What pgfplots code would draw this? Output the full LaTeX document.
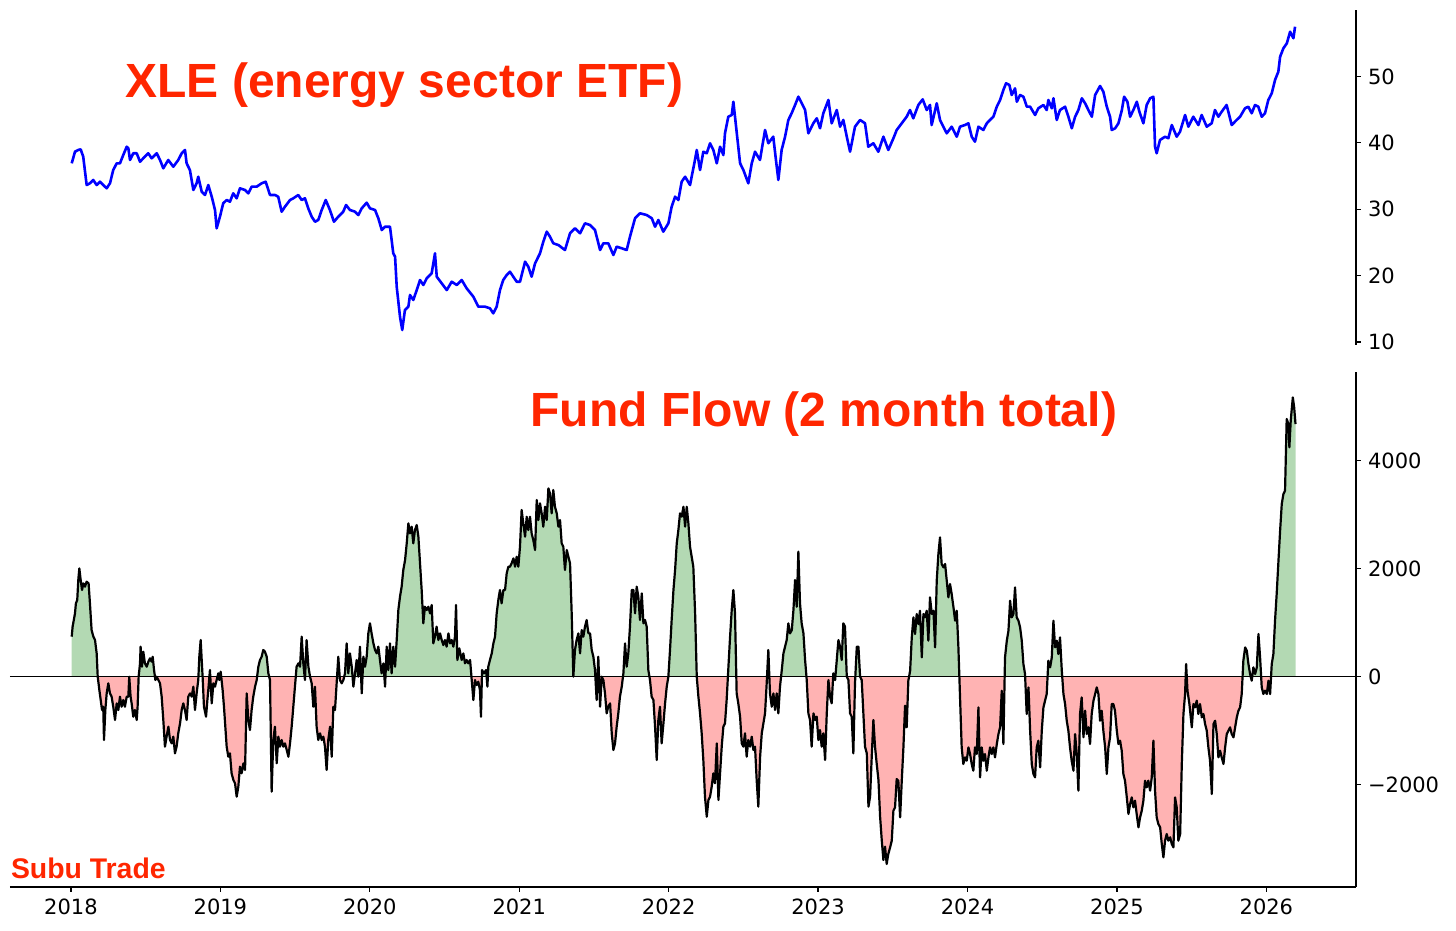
\documentclass[border=0pt]{standalone}
\usepackage{pgfplots}
\pgfplotsset{compat=1.18}
\usepackage{pgfplotstable}
\usepackage{fontspec}
\setmainfont{DejaVu Sans}
\newfontfamily\tickfont{DejaVu Sans}
\newfontfamily\titlefont{Liberation Sans}
\definecolor{tred}{RGB}{255,38,0}
\definecolor{posg}{RGB}{179,217,179}
\definecolor{negr}{RGB}{255,179,179}

\pgfplotstableread[row sep=\\]{
t v\\
2018.005 36.92\\ 2018.027 38.67\\ 2018.049 38.93\\ 2018.065 39.03\\ 2018.082 37.92\\ 2018.105 33.65\\ 2018.127 33.91\\ 2018.149 34.41\\
2018.172 33.65\\ 2018.194 34.15\\ 2018.216 33.65\\ 2018.239 33.16\\ 2018.261 33.91\\ 2018.283 35.91\\ 2018.306 36.92\\ 2018.328 36.92\\
2018.350 38.17\\ 2018.373 39.42\\ 2018.384 39.18\\ 2018.395 37.42\\ 2018.417 38.43\\ 2018.440 38.43\\ 2018.462 37.16\\ 2018.484 37.68\\
2018.517 38.43\\ 2018.540 37.68\\ 2018.574 38.43\\ 2018.596 37.42\\ 2018.618 36.17\\ 2018.651 37.42\\ 2018.685 36.41\\ 2018.718 37.42\\
2018.741 38.43\\ 2018.763 38.93\\ 2018.774 36.92\\ 2018.796 35.91\\ 2018.819 32.90\\ 2018.841 33.91\\ 2018.852 34.90\\ 2018.875 32.64\\
2018.897 32.15\\ 2018.919 33.65\\ 2018.942 31.89\\ 2018.964 29.89\\ 2018.975 27.13\\ 2018.997 28.88\\ 2019.019 30.90\\ 2019.042 31.39\\
2019.064 31.14\\ 2019.086 32.40\\ 2019.109 31.65\\ 2019.131 33.16\\ 2019.165 32.90\\ 2019.187 32.40\\ 2019.209 33.40\\ 2019.243 33.40\\
2019.276 33.91\\ 2019.303 34.15\\ 2019.332 32.15\\ 2019.365 32.15\\ 2019.387 31.89\\ 2019.410 29.63\\ 2019.432 30.38\\ 2019.466 31.39\\
2019.488 31.65\\ 2019.521 32.15\\ 2019.544 31.39\\ 2019.566 31.65\\ 2019.588 30.14\\ 2019.611 28.88\\ 2019.633 28.12\\ 2019.655 28.38\\
2019.678 29.89\\ 2019.705 31.39\\ 2019.733 29.89\\ 2019.760 28.12\\ 2019.789 28.88\\ 2019.822 29.63\\ 2019.841 30.64\\ 2019.867 29.89\\
2019.901 29.63\\ 2019.923 29.13\\ 2019.946 30.14\\ 2019.979 30.99\\ 2020.001 30.14\\ 2020.035 29.89\\ 2020.057 28.64\\ 2020.080 26.87\\
2020.102 27.37\\ 2020.135 27.37\\ 2020.157 23.36\\ 2020.169 22.85\\ 2020.180 18.33\\ 2020.202 13.81\\ 2020.217 11.81\\ 2020.235 14.82\\
2020.258 15.32\\ 2020.269 17.08\\ 2020.291 16.33\\ 2020.314 17.83\\ 2020.336 19.34\\ 2020.358 18.59\\ 2020.381 19.60\\ 2020.414 20.35\\
2020.436 23.36\\ 2020.448 19.84\\ 2020.481 18.84\\ 2020.515 17.83\\ 2020.548 19.08\\ 2020.582 18.59\\ 2020.615 19.34\\ 2020.648 18.09\\
2020.693 16.82\\ 2020.726 15.32\\ 2020.771 15.32\\ 2020.804 15.08\\ 2020.826 14.32\\ 2020.849 15.32\\ 2020.871 17.83\\ 2020.893 19.34\\
2020.916 20.09\\ 2020.938 20.59\\ 2020.960 19.84\\ 2020.983 19.08\\ 2021.005 19.08\\ 2021.039 22.10\\ 2021.061 21.34\\ 2021.083 19.84\\
2021.106 21.86\\ 2021.139 23.36\\ 2021.161 25.11\\ 2021.184 26.62\\ 2021.206 25.86\\ 2021.228 24.87\\ 2021.262 24.61\\ 2021.306 23.86\\
2021.340 26.38\\ 2021.373 27.13\\ 2021.407 26.38\\ 2021.440 27.88\\ 2021.474 27.63\\ 2021.507 26.87\\ 2021.541 23.86\\ 2021.563 24.87\\
2021.596 24.87\\ 2021.630 23.11\\ 2021.652 24.36\\ 2021.686 24.12\\ 2021.719 23.86\\ 2021.741 25.86\\ 2021.775 28.64\\ 2021.808 29.39\\
2021.853 29.13\\ 2021.887 28.64\\ 2021.909 27.37\\ 2021.931 28.38\\ 2021.964 26.62\\ 2021.998 27.88\\ 2022.020 30.38\\ 2022.043 31.89\\
2022.065 31.39\\ 2022.087 34.15\\ 2022.110 34.90\\ 2022.143 33.65\\ 2022.176 37.42\\ 2022.188 38.93\\ 2022.210 35.91\\ 2022.232 38.67\\
2022.255 38.43\\ 2022.277 39.94\\ 2022.299 38.93\\ 2022.322 36.92\\ 2022.344 39.42\\ 2022.366 38.17\\ 2022.377 41.44\\ 2022.399 43.94\\
2022.422 44.20\\ 2022.433 46.20\\ 2022.456 41.44\\ 2022.478 36.92\\ 2022.500 35.91\\ 2022.533 33.91\\ 2022.556 36.92\\ 2022.578 38.67\\
2022.611 37.42\\ 2022.645 41.94\\ 2022.667 39.94\\ 2022.700 40.93\\ 2022.718 37.42\\ 2022.734 34.41\\ 2022.756 38.93\\ 2022.779 40.93\\
2022.801 43.45\\ 2022.823 44.46\\ 2022.846 45.71\\ 2022.868 46.96\\ 2022.891 45.96\\ 2022.913 44.95\\ 2022.935 41.44\\ 2022.968 42.95\\
2022.991 43.70\\ 2023.013 42.20\\ 2023.035 44.46\\ 2023.069 46.46\\ 2023.091 42.95\\ 2023.125 44.95\\ 2023.147 42.44\\ 2023.169 43.45\\
2023.192 40.93\\ 2023.214 38.67\\ 2023.247 42.44\\ 2023.281 43.45\\ 2023.314 42.95\\ 2023.336 39.42\\ 2023.370 39.94\\ 2023.403 38.67\\
2023.437 40.93\\ 2023.470 38.93\\ 2023.504 40.69\\ 2023.526 41.94\\ 2023.560 42.95\\ 2023.593 43.94\\ 2023.615 44.95\\ 2023.637 43.70\\
2023.671 45.71\\ 2023.700 46.56\\ 2023.727 44.95\\ 2023.749 45.71\\ 2023.760 42.69\\ 2023.794 45.96\\ 2023.816 43.45\\ 2023.838 42.44\\
2023.861 41.44\\ 2023.894 42.44\\ 2023.928 40.93\\ 2023.950 42.44\\ 2023.983 42.69\\ 2024.006 42.95\\ 2024.028 40.93\\ 2024.050 40.18\\
2024.073 42.44\\ 2024.106 41.94\\ 2024.129 42.95\\ 2024.151 43.45\\ 2024.173 43.94\\ 2024.196 45.45\\ 2024.218 46.46\\ 2024.240 47.97\\
2024.258 48.98\\ 2024.280 48.72\\ 2024.296 47.21\\ 2024.318 48.22\\ 2024.330 46.20\\ 2024.352 47.21\\ 2024.374 46.96\\ 2024.397 45.45\\
2024.419 45.45\\ 2024.452 44.20\\ 2024.474 45.21\\ 2024.508 45.71\\ 2024.530 44.95\\ 2024.541 46.46\\ 2024.564 45.21\\ 2024.575 46.72\\
2024.597 43.45\\ 2024.619 44.95\\ 2024.653 45.45\\ 2024.675 43.94\\ 2024.698 42.20\\ 2024.720 43.94\\ 2024.742 44.95\\ 2024.765 46.72\\
2024.787 45.96\\ 2024.809 44.95\\ 2024.832 43.94\\ 2024.854 47.21\\ 2024.887 48.57\\ 2024.909 47.71\\ 2024.932 45.45\\ 2024.954 43.94\\
2024.965 41.94\\ 2024.988 42.20\\ 2025.010 42.95\\ 2025.033 44.95\\ 2025.048 46.96\\ 2025.070 46.20\\ 2025.088 43.94\\ 2025.110 44.95\\
2025.133 46.20\\ 2025.150 44.70\\ 2025.177 42.95\\ 2025.199 45.71\\ 2025.222 46.72\\ 2025.244 46.96\\ 2025.255 39.42\\ 2025.266 38.43\\
2025.288 40.43\\ 2025.322 40.93\\ 2025.344 40.69\\ 2025.367 42.69\\ 2025.400 40.93\\ 2025.422 41.68\\ 2025.456 44.20\\ 2025.478 42.44\\
2025.511 43.94\\ 2025.545 42.69\\ 2025.567 44.20\\ 2025.601 42.44\\ 2025.634 42.95\\ 2025.656 44.95\\ 2025.679 43.94\\ 2025.701 44.70\\
2025.734 45.71\\ 2025.768 42.69\\ 2025.801 43.45\\ 2025.824 43.94\\ 2025.857 45.21\\ 2025.879 45.45\\ 2025.902 44.46\\ 2025.924 45.71\\
2025.946 45.45\\ 2025.969 43.94\\ 2025.991 44.46\\ 2026.013 46.46\\ 2026.036 47.47\\ 2026.058 49.47\\ 2026.080 50.72\\ 2026.092 52.98\\
2026.114 54.25\\ 2026.137 55.00\\ 2026.159 56.75\\ 2026.181 55.76\\ 2026.192 57.50\\
}\xle

\pgfplotstableread[row sep=\\]{
t v\\
2018.005 741\\ 2018.011 926\\ 2018.027 1173\\ 2018.033 1358\\ 2018.042 1420\\ 2018.049 1790\\ 2018.056 2006\\ 2018.065 1790\\
2018.074 1605\\ 2018.083 1728\\ 2018.094 1667\\ 2018.105 1759\\ 2018.118 1728\\ 2018.127 1358\\ 2018.138 864\\ 2018.150 741\\
2018.161 679\\ 2018.172 432\\ 2018.179 0\\ 2018.190 -247\\ 2018.199 -432\\ 2018.208 -617\\ 2018.216 -556\\ 2018.221 -1173\\
2018.230 -617\\ 2018.239 -309\\ 2018.250 -123\\ 2018.261 -309\\ 2018.272 -370\\ 2018.283 -556\\ 2018.295 -802\\ 2018.306 -494\\
2018.317 -617\\ 2018.328 -370\\ 2018.339 -556\\ 2018.350 -432\\ 2018.361 -556\\ 2018.373 -370\\ 2018.384 -370\\ 2018.390 0\\
2018.399 -370\\ 2018.406 -494\\ 2018.417 -741\\ 2018.428 -617\\ 2018.440 -802\\ 2018.446 -556\\ 2018.453 0\\ 2018.462 247\\
2018.466 556\\ 2018.475 185\\ 2018.484 463\\ 2018.495 247\\ 2018.507 185\\ 2018.518 278\\ 2018.529 340\\ 2018.540 278\\
2018.547 370\\ 2018.556 123\\ 2018.565 -62\\ 2018.573 0\\ 2018.585 -62\\ 2018.596 -123\\ 2018.607 -370\\ 2018.618 -802\\
2018.629 -1296\\ 2018.640 -1111\\ 2018.652 -926\\ 2018.663 -1173\\ 2018.674 -1235\\ 2018.685 -1111\\ 2018.696 -1420\\ 2018.707 -1296\\
2018.718 -1049\\ 2018.730 -864\\ 2018.741 -617\\ 2018.752 -494\\ 2018.763 -617\\ 2018.774 -802\\ 2018.785 -370\\ 2018.797 -309\\
2018.808 -370\\ 2018.819 -185\\ 2018.830 -617\\ 2018.841 -309\\ 2018.852 -62\\ 2018.859 370\\ 2018.868 679\\ 2018.875 309\\
2018.881 0\\ 2018.890 -556\\ 2018.904 -741\\ 2018.913 -432\\ 2018.921 -185\\ 2018.930 123\\ 2018.942 -494\\ 2018.953 -123\\
2018.964 -185\\ 2018.975 -62\\ 2018.986 62\\ 2018.993 -62\\ 2019.002 93\\ 2019.008 -62\\ 2019.015 -247\\ 2019.024 -556\\
2019.033 -926\\ 2019.042 -1296\\ 2019.053 -1482\\ 2019.064 -1420\\ 2019.075 -1790\\ 2019.087 -1914\\ 2019.098 -1975\\ 2019.109 -2222\\
2019.120 -2037\\ 2019.131 -1667\\ 2019.142 -1790\\ 2019.154 -1605\\ 2019.165 -1728\\ 2019.176 -309\\ 2019.187 -802\\ 2019.198 -988\\
2019.209 -617\\ 2019.220 -370\\ 2019.232 -185\\ 2019.243 -62\\ 2019.254 185\\ 2019.265 309\\ 2019.276 370\\ 2019.287 494\\
2019.298 463\\ 2019.310 370\\ 2019.321 62\\ 2019.332 -62\\ 2019.343 -2130\\ 2019.354 -1173\\ 2019.365 -926\\ 2019.377 -1605\\
2019.388 -1111\\ 2019.399 -1296\\ 2019.410 -1173\\ 2019.421 -1296\\ 2019.432 -1235\\ 2019.444 -1358\\ 2019.455 -1482\\ 2019.466 -1235\\
2019.477 -926\\ 2019.488 -556\\ 2019.499 -185\\ 2019.510 185\\ 2019.522 247\\ 2019.533 185\\ 2019.544 741\\ 2019.555 247\\
2019.566 -62\\ 2019.577 679\\ 2019.589 185\\ 2019.600 0\\ 2019.611 -123\\ 2019.622 -556\\ 2019.633 -185\\ 2019.644 -926\\
2019.655 -1173\\ 2019.667 -1049\\ 2019.678 -1173\\ 2019.689 -1111\\ 2019.700 -1296\\ 2019.711 -1728\\ 2019.722 -1173\\ 2019.734 -926\\
2019.745 -1482\\ 2019.756 -556\\ 2019.767 -617\\ 2019.778 -123\\ 2019.789 370\\ 2019.800 -62\\ 2019.812 -123\\ 2019.823 -62\\
2019.834 62\\ 2019.845 617\\ 2019.856 62\\ 2019.867 432\\ 2019.879 185\\ 2019.890 -185\\ 2019.901 62\\ 2019.912 309\\
2019.923 0\\ 2019.934 556\\ 2019.946 -309\\ 2019.957 370\\ 2019.968 185\\ 2019.979 370\\ 2019.990 802\\ 2020.001 988\\
2020.012 802\\ 2020.024 617\\ 2020.035 494\\ 2020.046 432\\ 2020.057 556\\ 2020.068 309\\ 2020.079 62\\ 2020.091 247\\
2020.102 -185\\ 2020.113 556\\ 2020.124 123\\ 2020.135 617\\ 2020.146 62\\ 2020.157 556\\ 2020.169 185\\ 2020.180 679\\
2020.191 1235\\ 2020.202 1482\\ 2020.213 1667\\ 2020.224 1975\\ 2020.236 2161\\ 2020.247 2469\\ 2020.258 2840\\ 2020.269 2654\\
2020.280 2778\\ 2020.291 2469\\ 2020.302 2716\\ 2020.314 2809\\ 2020.325 2593\\ 2020.336 2099\\ 2020.347 1605\\ 2020.358 988\\
2020.369 1296\\ 2020.381 1235\\ 2020.392 1296\\ 2020.403 1173\\ 2020.414 1327\\ 2020.425 617\\ 2020.436 741\\ 2020.447 926\\
2020.459 679\\ 2020.470 802\\ 2020.481 679\\ 2020.492 586\\ 2020.503 679\\ 2020.514 556\\ 2020.526 802\\ 2020.537 617\\
2020.548 679\\ 2020.559 556\\ 2020.570 741\\ 2020.577 1327\\ 2020.586 309\\ 2020.599 525\\ 2020.615 309\\ 2020.626 432\\
2020.637 247\\ 2020.648 309\\ 2020.659 247\\
2020.671 309\\ 2020.693 -432\\ 2020.704 -62\\ 2020.715 -154\\ 2020.726 -93\\ 2020.737 -247\\ 2020.744 -741\\ 2020.751 123\\
2020.764 62\\ 2020.778 123\\ 2020.787 -185\\ 2020.793 185\\ 2020.804 309\\ 2020.816 432\\ 2020.827 617\\ 2020.838 741\\
2020.849 1173\\ 2020.860 1420\\ 2020.871 1605\\ 2020.882 1358\\ 2020.894 1605\\ 2020.905 1605\\ 2020.916 1914\\ 2020.927 2037\\
2020.938 2037\\ 2020.949 2099\\ 2020.961 2191\\ 2020.972 2037\\ 2020.983 2222\\ 2020.994 2037\\ 2021.005 2407\\ 2021.016 3087\\
2021.027 2840\\ 2021.039 2593\\ 2021.050 2963\\ 2021.061 2716\\ 2021.072 2963\\ 2021.083 2654\\ 2021.094 2531\\ 2021.106 2346\\
2021.117 3272\\ 2021.128 2901\\ 2021.139 3210\\ 2021.150 3025\\ 2021.161 2778\\ 2021.173 3148\\ 2021.184 2901\\ 2021.195 3488\\
2021.206 3395\\ 2021.217 3025\\ 2021.228 3457\\ 2021.239 3148\\ 2021.251 3025\\ 2021.262 2778\\ 2021.273 2901\\ 2021.284 2469\\
2021.295 2407\\ 2021.306 1975\\ 2021.318 2346\\ 2021.329 2222\\ 2021.340 2099\\ 2021.351 1173\\ 2021.362 0\\ 2021.373 494\\
2021.384 679\\ 2021.396 802\\ 2021.407 432\\ 2021.418 864\\ 2021.429 741\\ 2021.440 926\\ 2021.451 1049\\ 2021.463 802\\
2021.474 802\\ 2021.485 494\\ 2021.496 370\\ 2021.507 123\\ 2021.518 -432\\ 2021.529 370\\ 2021.541 -556\\ 2021.552 0\\
2021.563 -62\\ 2021.574 -309\\ 2021.585 -679\\ 2021.596 -556\\ 2021.608 -494\\ 2021.619 -1049\\ 2021.630 -1358\\ 2021.641 -1235\\
2021.652 -926\\ 2021.663 -679\\ 2021.674 -370\\ 2021.686 -185\\ 2021.697 62\\ 2021.708 617\\ 2021.719 185\\ 2021.730 432\\
2021.741 926\\ 2021.753 1605\\ 2021.764 1605\\ 2021.775 1173\\ 2021.786 1667\\ 2021.797 1482\\ 2021.808 1049\\ 2021.820 1543\\
2021.831 988\\ 2021.842 1049\\ 2021.853 926\\ 2021.864 123\\ 2021.875 -62\\ 2021.886 -370\\ 2021.898 -432\\ 2021.909 -926\\
2021.920 -1543\\ 2021.931 -802\\ 2021.942 -556\\ 2021.953 -1235\\ 2021.965 -864\\ 2021.976 -494\\ 2021.987 -185\\ 2021.998 0\\
2022.009 494\\ 2022.020 1049\\ 2022.032 1605\\ 2022.043 1975\\ 2022.054 2469\\ 2022.065 2716\\ 2022.076 3025\\ 2022.087 2963\\
2022.099 3148\\ 2022.110 2778\\ 2022.121 3148\\ 2022.132 2840\\ 2022.143 2407\\ 2022.154 2222\\ 2022.165 2037\\ 2022.177 1173\\
2022.188 0\\ 2022.199 -370\\ 2022.210 -679\\ 2022.221 -1049\\ 2022.232 -1543\\ 2022.243 -2222\\ 2022.255 -2593\\ 2022.266 -2284\\
2022.277 -2222\\ 2022.288 -2037\\ 2022.299 -1790\\ 2022.310 -1975\\ 2022.322 -1235\\ 2022.333 -2284\\ 2022.344 -1790\\ 2022.355 -1296\\
2022.366 -926\\ 2022.377 -864\\ 2022.388 -432\\ 2022.400 185\\ 2022.411 741\\ 2022.422 1235\\ 2022.433 1605\\ 2022.444 1173\\
2022.455 -309\\ 2022.466 -494\\ 2022.478 -741\\ 2022.489 -1235\\ 2022.500 -1296\\ 2022.511 -1049\\ 2022.522 -1482\\ 2022.533 -1173\\
2022.545 -1296\\ 2022.556 -1111\\ 2022.567 -1358\\ 2022.578 -1296\\ 2022.589 -1914\\ 2022.600 -2407\\ 2022.612 -1482\\ 2022.623 -1049\\
2022.634 -864\\ 2022.645 -679\\ 2022.656 -123\\ 2022.667 494\\ 2022.678 -309\\ 2022.690 -556\\ 2022.701 -309\\ 2022.712 -617\\
2022.723 -309\\ 2022.734 -679\\ 2022.745 -185\\ 2022.757 123\\ 2022.768 432\\ 2022.779 556\\ 2022.790 679\\ 2022.801 988\\
2022.812 802\\ 2022.824 864\\ 2022.835 1235\\ 2022.846 1790\\ 2022.857 1296\\ 2022.868 2315\\ 2022.879 1358\\ 2022.890 988\\
2022.902 802\\ 2022.913 309\\ 2022.924 -62\\ 2022.935 -679\\ 2022.946 -802\\ 2022.957 -1296\\ 2022.969 -679\\ 2022.980 -802\\
2022.991 -741\\ 2023.002 -1173\\ 2023.013 -988\\ 2023.024 -1296\\ 2023.035 -1049\\ 2023.047 -1543\\ 2023.058 -679\\ 2023.069 -62\\
2023.080 -370\\ 2023.091 -494\\ 2023.102 62\\ 2023.114 -62\\ 2023.125 309\\ 2023.136 679\\ 2023.147 556\\ 2023.158 309\\
2023.169 988\\ 2023.180 926\\ 2023.192 0\\ 2023.203 -62\\ 2023.214 -679\\ 2023.225 -741\\ 2023.236 -1420\\ 2023.247 -123\\
2023.259 556\\ 2023.270 556\\ 2023.281 0\\ 2023.292 -62\\ 2023.303 -679\\ 2023.314 -1296\\ 2023.326 -1420\\ 2023.337 -2407\\
2023.348 -2222\\ 2023.359 -1482\\ 2023.370 -802\\ 2023.381 -1296\\ 2023.392 -1605\\ 2023.404 -1914\\ 2023.415 -2593\\ 2023.426 -3025\\
2023.437 -3395\\ 2023.448 -3148\\
2023.459 -3469\\ 2023.470 -3284\\ 2023.482 -3161\\ 2023.493 -3037\\ 2023.504 -2482\\ 2023.515 -2420\\ 2023.526 -1895\\ 2023.537 -1926\\
2023.549 -2605\\ 2023.560 -1926\\ 2023.571 -1309\\ 2023.582 -537\\ 2023.593 -938\\ 2023.604 -74\\ 2023.616 111\\ 2023.627 728\\
2023.638 1099\\ 2023.649 790\\ 2023.660 1161\\ 2023.671 975\\ 2023.682 1222\\ 2023.694 358\\ 2023.705 1161\\ 2023.716 1099\\
2023.727 1222\\ 2023.738 667\\ 2023.749 1469\\ 2023.761 1161\\ 2023.772 1222\\ 2023.783 543\\ 2023.794 1778\\ 2023.805 2272\\
2023.816 2580\\ 2023.827 2086\\ 2023.839 2025\\ 2023.850 2086\\ 2023.861 1778\\ 2023.872 1469\\ 2023.883 1716\\ 2023.894 1531\\
2023.906 1284\\ 2023.917 1037\\ 2023.928 1222\\ 2023.939 543\\ 2023.950 -383\\ 2023.961 -1309\\ 2023.972 -1617\\ 2023.984 -1494\\
2023.995 -1556\\ 2024.006 -1309\\ 2024.017 -1432\\ 2024.028 -1617\\ 2024.039 -1741\\ 2024.050 -1309\\ 2024.062 -1432\\ 2024.073 -568\\
2024.084 -1864\\ 2024.095 -1309\\ 2024.106 -1556\\ 2024.117 -1432\\ 2024.129 -1741\\ 2024.140 -1494\\ 2024.151 -1309\\ 2024.162 -1432\\
2024.173 -1309\\ 2024.184 -1494\\ 2024.196 -1247\\ 2024.207 -1062\\ 2024.218 -938\\ 2024.229 -259\\ 2024.240 -1247\\ 2024.251 358\\
2024.263 667\\ 2024.274 852\\ 2024.285 1407\\ 2024.296 1099\\ 2024.307 1161\\ 2024.318 1654\\ 2024.329 1099\\ 2024.341 1037\\
2024.352 914\\ 2024.363 667\\ 2024.374 235\\ 2024.385 49\\ 2024.396 -691\\ 2024.408 -198\\ 2024.419 -1000\\ 2024.430 -1617\\
2024.441 -1802\\ 2024.452 -1864\\ 2024.463 -1309\\ 2024.474 -1185\\ 2024.486 -1679\\ 2024.497 -1000\\ 2024.508 -568\\ 2024.519 -444\\
2024.530 -321\\ 2024.541 296\\ 2024.553 173\\ 2024.564 358\\ 2024.575 1037\\ 2024.586 543\\ 2024.597 667\\ 2024.608 420\\
2024.619 728\\ 2024.631 111\\ 2024.642 -321\\ 2024.653 -506\\ 2024.664 -815\\ 2024.675 -1000\\ 2024.686 -1309\\ 2024.697 -1556\\
2024.709 -1741\\ 2024.720 -1062\\ 2024.731 -1432\\ 2024.742 -2111\\ 2024.753 -691\\ 2024.764 -383\\ 2024.776 -1123\\ 2024.787 -630\\
2024.798 -1062\\ 2024.809 -938\\ 2024.820 -1247\\ 2024.831 -691\\ 2024.843 -444\\ 2024.854 -321\\ 2024.865 -198\\ 2024.876 -321\\
2024.887 -815\\ 2024.898 -630\\ 2024.909 -1000\\ 2024.921 -1309\\ 2024.932 -1802\\ 2024.943 -1309\\ 2024.954 -1123\\ 2024.965 -506\\
2024.976 -506\\ 2024.987 -630\\ 2024.999 -1000\\ 2025.010 -1247\\ 2025.021 -1185\\ 2025.032 -1370\\ 2025.043 -1802\\ 2025.054 -1926\\
2025.066 -2235\\ 2025.077 -2543\\ 2025.088 -2358\\ 2025.099 -2235\\ 2025.110 -2420\\ 2025.121 -2296\\ 2025.132 -2543\\ 2025.144 -2790\\
2025.155 -2605\\ 2025.166 -2482\\ 2025.177 -2296\\ 2025.188 -1926\\ 2025.199 -2049\\ 2025.210 -1926\\ 2025.222 -2111\\ 2025.233 -1864\\
2025.244 -1185\\ 2025.255 -2111\\ 2025.266 -2605\\ 2025.277 -2728\\ 2025.289 -2790\\ 2025.300 -3099\\ 2025.311 -3346\\ 2025.322 -3037\\
2025.333 -2914\\ 2025.344 -3037\\ 2025.356 -2975\\ 2025.367 -3099\\ 2025.378 -3161\\ 2025.389 -2235\\ 2025.400 -2420\\ 2025.411 -3037\\
2025.423 -2914\\ 2025.434 -1617\\ 2025.445 -691\\ 2025.456 -321\\ 2025.463 235\\ 2025.472 -259\\ 2025.485 -506\\ 2025.501 -938\\
2025.512 -506\\ 2025.523 -568\\ 2025.534 -444\\ 2025.545 -691\\ 2025.556 -506\\ 2025.568 -753\\ 2025.579 -691\\ 2025.590 -877\\
2025.601 -1000\\ 2025.612 -1309\\ 2025.623 -1556\\ 2025.635 -2173\\ 2025.646 -877\\ 2025.657 -815\\ 2025.668 -1062\\ 2025.679 -1494\\
2025.690 -1370\\ 2025.701 -1494\\ 2025.713 -1617\\ 2025.724 -1309\\ 2025.735 -1062\\ 2025.746 -1000\\ 2025.757 -938\\ 2025.768 -1062\\
2025.780 -1123\\ 2025.791 -938\\ 2025.802 -753\\ 2025.813 -630\\ 2025.824 -568\\ 2025.835 -321\\ 2025.846 296\\ 2025.858 543\\
2025.869 481\\ 2025.880 235\\ 2025.891 49\\ 2025.902 -74\\ 2025.913 173\\ 2025.925 49\\ 2025.936 173\\ 2025.947 790\\
2025.958 358\\ 2025.969 -198\\ 2025.980 -321\\ 2025.991 -259\\ 2026.003 -321\\ 2026.014 -74\\ 2026.025 -321\\ 2026.036 235\\
2026.047 420\\ 2026.058 1037\\ 2026.069 1531\\ 2026.081 2148\\ 2026.092 2704\\ 2026.103 3198\\ 2026.114 3383\\ 2026.125 3445\\
2026.136 4772\\ 2026.148 4679\\ 2026.154 4247\\ 2026.163 4741\\ 2026.177 5173\\ 2026.186 4988\\ 2026.195 4679\\
}\flow

\begin{document}
\begin{tikzpicture}[x=1pt,y=1pt]
\path (0,0) rectangle (728,465.5);
\pgfplotsset{
  common/.style={
    scale only axis, anchor=south west, width=673pt,
    xmin=2017.592, xmax=2026.6,
    axis line style={-, line width=0.8pt, black},
    tick align=outside, major tick length=2.5pt,
    tick style={line width=0.6pt, black},
    tick label style={font=\tickfont\fontsize{10.5}{12}\selectfont},
    /pgf/number format/assume math mode=true,
  },
  helper/.style={
    scale only axis, anchor=south west, width=673pt,
    xmin=2017.592, xmax=2026.6, hide axis, clip=true,
  }
}
% top panel: XLE price
\begin{axis}[common, at={(5pt,293pt)}, height=167.5pt,
  ymin=9.55, ymax=60.02,
  axis x line=none, axis y line*=right,
  xtick=\empty,
  ytick={10,20,30,40,50}, yticklabels={10,20,30,40,50}]
\addplot[blue, line width=1.3pt, line join=round] table[x=t,y=v]{\xle};
\end{axis}

% helper axis: green area above zero (clipped by its own box)
\begin{axis}[helper, at={(5pt,127.154pt)}, height=152.346pt, ymin=0, ymax=5643]
\addplot[fill=posg, draw=none] table[x=t,y=v]{\flow} \closedcycle;
\end{axis}
% helper axis: red area below zero
\begin{axis}[helper, at={(5pt,22pt)}, height=105.154pt, ymin=-3895, ymax=0]
\addplot[fill=negr, draw=none] table[x=t,y=v]{\flow} \closedcycle;
\end{axis}

% bottom panel: fund flow
\begin{axis}[common, at={(5pt,22pt)}, height=257.5pt,
  ymin=-3895, ymax=5643,
  axis x line*=bottom, axis y line*=right,
  xtick={2018,2019,2020,2021,2022,2023,2024,2025,2026},
  xticklabels={2018,2019,2020,2021,2022,2023,2024,2025,2026},
  ytick={-2000,0,2000,4000}, yticklabels={−2000,0,2000,4000}]
\addplot[black, line width=0.75pt] coordinates {(2017.592,0) (2026.6,0)};
\addplot[black, line width=1.1pt, line join=round] table[x=t,y=v]{\flow};
\end{axis}

\node[anchor=base west, inner sep=0pt, text=tred, font=\titlefont\bfseries\fontsize{24}{28}\selectfont] at (62.6,416.85) {XLE (energy sector ETF)};
\node[anchor=base west, inner sep=0pt, text=tred, font=\titlefont\bfseries\fontsize{24}{28}\selectfont] at (265,252.15) {Fund Flow (2 month total)};
\node[anchor=base west, inner sep=0pt, text=tred, font=\titlefont\bfseries\fontsize{14.2}{17}\selectfont] at (5.3,26.35) {Subu Trade};
\end{tikzpicture}
\end{document}
